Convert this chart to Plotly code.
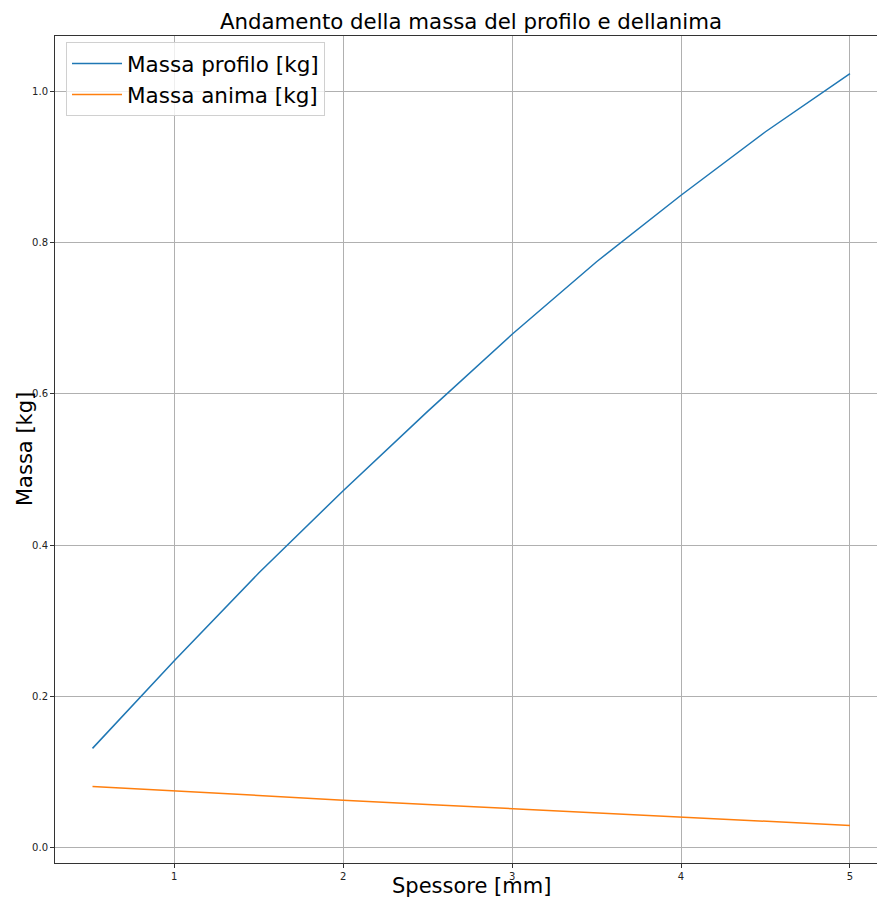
import plotly.graph_objects as go

spessore = [0.516, 1.0, 1.5, 2.0, 2.5, 3.0, 3.5, 4.0, 4.5, 5.0]
massa_profilo = [0.131, 0.247, 0.363, 0.472, 0.577, 0.679, 0.775, 0.863, 0.947, 1.024]
massa_anima = [0.0806, 0.0745, 0.0685, 0.0625, 0.0568, 0.0512, 0.0456, 0.0400, 0.0345, 0.0290]

x_ticks = [1, 2, 3, 4, 5]
y_ticks = [0.0, 0.2, 0.4, 0.6, 0.8, 1.0]
y_tick_labels = ["0.0", "0.2", "0.4", "0.6", "0.8", "1.0"]

font = "DejaVu Sans"
W, H = 877, 899
L, R, T, B = 55, 0, 36, 36

fig = go.Figure()
fig.add_trace(go.Scatter(x=spessore, y=massa_profilo, mode="lines", name="Massa profilo [kg]",
                         line=dict(color="#1f77b4", width=1.5)))
fig.add_trace(go.Scatter(x=spessore, y=massa_anima, mode="lines", name="Massa anima [kg]",
                         line=dict(color="#ff7f0e", width=1.5)))

pw = W - L - R
ph = H - T - B

fig.update_layout(
    width=W, height=H,
    margin=dict(l=L, r=R, t=T, b=B, autoexpand=False),
    paper_bgcolor="white", plot_bgcolor="white",
    font=dict(family=font, color="black"),
    title=dict(text="Andamento della massa del profilo e dellanima", x=471/W, xanchor="center",
               y=1 - 22/H, yanchor="middle", xref="container", yref="container",
               font=dict(size=21.3, family=font, color="black")),
    legend=dict(x=(66 - L)/pw, y=1 - (42 - T)/ph, xanchor="left", yanchor="top",
                bgcolor="rgba(255,255,255,0.8)", bordercolor="#d0d0d0", borderwidth=1,
                font=dict(size=21.5, family=font), itemwidth=50, tracegroupgap=4),
    showlegend=True,
    annotations=[
        dict(text="Spessore [mm]", x=(471 - L)/pw, y=-(886 - (H - B))/ph, xref="paper", yref="paper",
             showarrow=False, xanchor="center", yanchor="middle",
             font=dict(size=21, family=font, color="black")),
        dict(text="Massa [kg]", x=(25 - L)/pw, y=(H - B - 449)/ph, xref="paper", yref="paper",
             showarrow=False, xanchor="center", yanchor="middle", textangle=-90,
             font=dict(size=21, family=font, color="black")),
    ],
)

fig.update_xaxes(
    range=[0.294, 5.160],
    tickvals=x_ticks, ticktext=[str(v) for v in x_ticks],
    ticks="outside", ticklen=4, tickcolor="#333", tickfont=dict(size=10, family=font, color="#222"),
    showgrid=True, gridcolor="#b0b0b0", gridwidth=0.8,
    showline=True, linecolor="#333", linewidth=1, mirror=True,
    zeroline=False, automargin=False,
)
fig.update_yaxes(
    range=[-0.0207, 1.0737],
    tickvals=y_ticks, ticktext=y_tick_labels,
    ticks="outside", ticklen=4, tickcolor="#333", tickfont=dict(size=10, family=font, color="#222"),
    showgrid=True, gridcolor="#b0b0b0", gridwidth=0.8,
    showline=True, linecolor="#333", linewidth=1, mirror=False,
    zeroline=False, automargin=False,
)

fig.write_html("out.html", config={"displayModeBar": False},
               post_script="document.body.style.margin='0';document.body.style.overflow='hidden';")
